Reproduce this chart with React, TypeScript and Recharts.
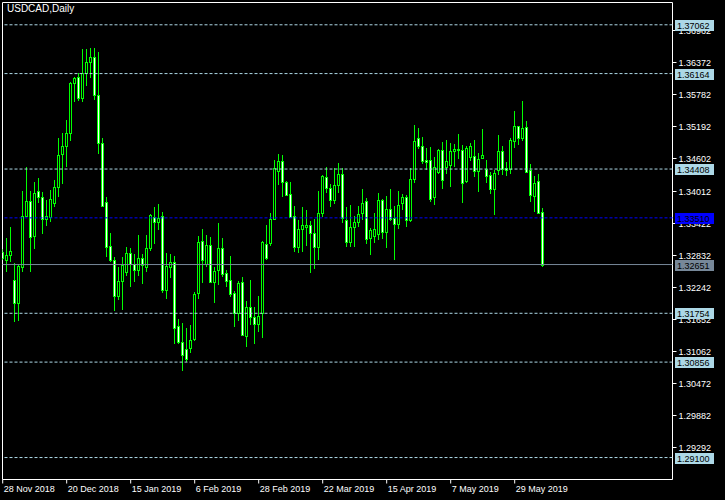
import { Bar, ComposedChart, ReferenceArea, ReferenceLine, XAxis, YAxis } from "recharts";

const title = "USDCAD,Daily";

// daily candles, 28 Nov 2018 .. 7 Jun 2019
const openPrices = [
  1.32888, 1.32742, 1.32833, 1.32368, 1.31952, 1.32613, 1.3355, 1.33813, 1.33182, 1.33997,
  1.33886, 1.33495, 1.33531, 1.33789, 1.34082, 1.34676, 1.34835, 1.3508, 1.35999, 1.36103,
  1.35723, 1.36182, 1.36384, 1.36476, 1.35778, 1.34878, 1.33795, 1.32993, 1.32729, 1.32081,
  1.32356, 1.32509, 1.32858, 1.32656, 1.32546, 1.32766, 1.32601, 1.3295, 1.33531, 1.3344,
  1.3355, 1.32184, 1.32613, 1.32693, 1.31523, 1.31223, 1.31095, 1.31107, 1.31278, 1.32123,
  1.33078, 1.32668, 1.33005, 1.32338, 1.32552, 1.3295, 1.32491, 1.32368, 1.32123, 1.31756,
  1.32325, 1.3134, 1.31866, 1.31682, 1.31548, 1.31756, 1.33023, 1.33042, 1.33488, 1.34376,
  1.34554, 1.34168, 1.33948, 1.33544, 1.3298, 1.33299, 1.33348, 1.33372, 1.33225, 1.32968,
  1.33605, 1.34254, 1.34052, 1.33831, 1.34107, 1.34309, 1.33464, 1.33072, 1.33348, 1.3344,
  1.33593, 1.33813, 1.33133, 1.33176, 1.33207, 1.33831, 1.33256, 1.33666, 1.33501, 1.33391,
  1.33789, 1.33886, 1.33464, 1.34229, 1.3497, 1.34841, 1.34566, 1.34566, 1.33886, 1.34352,
  1.3475, 1.3445, 1.34474, 1.34731, 1.34774, 1.3475, 1.3418, 1.34621, 1.34639, 1.34364,
  1.34603, 1.34401, 1.34297, 1.34033, 1.34382, 1.34731, 1.34419, 1.34413, 1.34933, 1.35197,
  1.34982, 1.3519, 1.34382, 1.33917, 1.3418, 1.33623,
];
const highPrices = [
  1.32937, 1.33139, 1.33335, 1.32674, 1.3265, 1.34003, 1.34444, 1.34003, 1.34162, 1.34241,
  1.33978, 1.33837, 1.34021, 1.34205, 1.34976, 1.35068, 1.35307, 1.36011, 1.36103, 1.36182,
  1.36611, 1.36611, 1.36641, 1.36629, 1.36556, 1.34976, 1.33893, 1.33225, 1.32791, 1.32607,
  1.32791, 1.32974, 1.3295, 1.32846, 1.33195, 1.32852, 1.33195, 1.33586, 1.33709, 1.33764,
  1.33617, 1.32858, 1.32846, 1.32809, 1.31652, 1.31578, 1.31487, 1.31542, 1.32142, 1.33176,
  1.33305, 1.33195, 1.33158, 1.32601, 1.33415, 1.33139, 1.32552, 1.32809, 1.32172, 1.32344,
  1.32423, 1.31982, 1.32368, 1.31878, 1.32074, 1.33078, 1.33378, 1.33599, 1.34572, 1.34682,
  1.34664, 1.3418, 1.34168, 1.33727, 1.3347, 1.33709, 1.33654, 1.33446, 1.33482, 1.34003,
  1.34297, 1.34444, 1.34131, 1.34419, 1.34517, 1.34419, 1.33709, 1.33746, 1.33537, 1.33727,
  1.34039, 1.33874, 1.33323, 1.33599, 1.33966, 1.33862, 1.33911, 1.34039, 1.33727, 1.34003,
  1.33948, 1.33929, 1.34419, 1.35215, 1.35172, 1.34995, 1.34799, 1.34811, 1.34627, 1.34774,
  1.34903, 1.34939, 1.34884, 1.34866, 1.3505, 1.34848, 1.34841, 1.34878, 1.34939, 1.34701,
  1.35141, 1.34572, 1.34346, 1.34395, 1.35031, 1.34823, 1.34529, 1.34988, 1.35478, 1.35209,
  1.35656, 1.35294, 1.34499, 1.34284, 1.34315, 1.33684,
];
const lowPrices = [
  1.32735, 1.32521, 1.32705, 1.31585, 1.31621, 1.32521, 1.33531, 1.32521, 1.32931, 1.33776,
  1.33219, 1.33366, 1.3344, 1.33715, 1.33899, 1.34131, 1.34444, 1.34927, 1.35637, 1.35662,
  1.35637, 1.35937, 1.3609, 1.3568, 1.34688, 1.33715, 1.32791, 1.32705, 1.31805, 1.32,
  1.31823, 1.32448, 1.32246, 1.32338, 1.32448, 1.32301, 1.32509, 1.32907, 1.33035, 1.33286,
  1.32136, 1.32019, 1.32411, 1.31187, 1.31193, 1.30685, 1.3085, 1.31021, 1.31236, 1.32025,
  1.32319, 1.32607, 1.32319, 1.31952, 1.32282, 1.32429, 1.32246, 1.32062, 1.31493, 1.31621,
  1.31327, 1.31131, 1.31542, 1.31187, 1.31401, 1.31291, 1.32735, 1.32993, 1.3347, 1.34113,
  1.33899, 1.33917, 1.3352, 1.32882, 1.3287, 1.32882, 1.32993, 1.32503, 1.3257, 1.32735,
  1.33531, 1.33972, 1.33715, 1.3377, 1.33972, 1.33421, 1.32968, 1.3298, 1.32968, 1.33348,
  1.3347, 1.33035, 1.32827, 1.33054, 1.33103, 1.33127, 1.32956, 1.33458, 1.32735, 1.33311,
  1.33654, 1.33348, 1.3344, 1.34156, 1.3478, 1.34505, 1.34395, 1.33807, 1.33752, 1.34309,
  1.34039, 1.34321, 1.34076, 1.3445, 1.34584, 1.33789, 1.34156, 1.3456, 1.34266, 1.33991,
  1.3459, 1.34156, 1.33954, 1.33568, 1.34297, 1.34297, 1.34284, 1.34321, 1.34799, 1.34848,
  1.34921, 1.34339, 1.33801, 1.33617, 1.3358, 1.32607,
];
const closePrices = [
  1.32766, 1.32821, 1.32895, 1.31952, 1.32631, 1.33537, 1.33813, 1.33164, 1.3396, 1.33899,
  1.33495, 1.33537, 1.3385, 1.34076, 1.34658, 1.34841, 1.3508, 1.35999, 1.3609, 1.35723,
  1.36182, 1.36378, 1.36476, 1.35778, 1.34878, 1.33721, 1.3298, 1.32729, 1.32081, 1.32344,
  1.32638, 1.32858, 1.32656, 1.32546, 1.32766, 1.32638, 1.3295, 1.33562, 1.33427, 1.33513,
  1.32184, 1.32625, 1.32693, 1.3148, 1.31217, 1.30985, 1.30911, 1.3126, 1.32111, 1.33066,
  1.32729, 1.33011, 1.32338, 1.32533, 1.3295, 1.32472, 1.32356, 1.32105, 1.31756, 1.32307,
  1.31346, 1.31866, 1.31682, 1.31548, 1.31701, 1.3306, 1.32766, 1.33488, 1.34419, 1.34554,
  1.34174, 1.33935, 1.33531, 1.3298, 1.33299, 1.33372, 1.33372, 1.33225, 1.32968, 1.33605,
  1.34278, 1.34052, 1.33831, 1.34107, 1.34309, 1.33501, 1.3306, 1.33335, 1.33427, 1.3358,
  1.33776, 1.33115, 1.3328, 1.33299, 1.33831, 1.33256, 1.33666, 1.33482, 1.33403, 1.3374,
  1.33886, 1.33464, 1.34217, 1.34933, 1.34841, 1.34548, 1.34541, 1.33862, 1.34444, 1.34762,
  1.34199, 1.34548, 1.34731, 1.34774, 1.34762, 1.34144, 1.34786, 1.34841, 1.34364, 1.3459,
  1.34658, 1.34272, 1.34046, 1.34327, 1.34731, 1.34401, 1.34382, 1.34939, 1.35197, 1.34988,
  1.35154, 1.34352, 1.33935, 1.34144, 1.33605, 1.32651,
];

const dateLabels = [
  "28 Nov 2018", "20 Dec 2018", "15 Jan 2019", "6 Feb 2019", "28 Feb 2019",
  "22 Mar 2019", "15 Apr 2019", "7 May 2019", "29 May 2019",
];
const dateTickBars = [0, 16, 32, 48, 64, 80, 96, 112, 128];

const priceTicks = [
  1.29292, 1.29882, 1.30472, 1.31062, 1.31652, 1.32242, 1.32832,
  1.33422, 1.34012, 1.34602, 1.35192, 1.35782, 1.36372, 1.36962,
];

const levelPrices = [1.37062, 1.36164, 1.34408, 1.31754, 1.30856, 1.291];
const blueLevel = 1.3351;
const bidPrice = 1.32651;

const GREEN = "#00ff00";
const LEVEL = "#add8e6";
const BID = "#778899";
const FONT = "'Liberation Sans', Arial, sans-serif";
const X_DOMAIN: [number, number] = [-0.05, 167.45];
const Y_DOMAIN: [number, number] = [1.28696, 1.37472];

const rows = openPrices.map((o, i) => ({
  bar: i,
  open: o,
  high: highPrices[i],
  low: lowPrices[i],
  close: closePrices[i],
  range: [lowPrices[i], highPrices[i]],
}));

const Candle = (props: any) => {
  const { x, y, width, height, payload } = props;
  if (!payload) return null;
  const { open, high, low, close } = payload;
  const k = high > low ? height / (high - low) : 0;
  const py = (v: number) => y + (high - v) * k;
  const cx = Math.floor(x + width / 2) + 0.5;
  const top = Math.round(py(Math.max(open, close))) + 0.5;
  let bot = Math.round(py(Math.min(open, close))) + 0.5;
  if (bot - top < 1) bot = top + 1;
  return (
    <g>
      <line x1={cx} x2={cx} y1={Math.round(py(high))} y2={top} stroke={GREEN} strokeWidth={1} />
      <line x1={cx} x2={cx} y1={bot} y2={Math.round(py(low))} stroke={GREEN} strokeWidth={1} />
      <rect
        x={cx - 1}
        y={top}
        width={2}
        height={bot - top}
        fill={close < open ? "#ffffff" : "#000000"}
        stroke={GREEN}
        strokeWidth={1}
      />
    </g>
  );
};

// price scale tick (mark + number), drawn as a reference-line label so the
// level boxes that come later in the tree paint over it like in the terminal
const priceTick = (value: number) => (props: any) => {
  const vb = props.viewBox;
  if (!vb) return null;
  const ax = vb.x + vb.width;
  const ty = Math.round(vb.y) + 0.5;
  return (
    <g>
      <line x1={ax} x2={ax + 4} y1={ty} y2={ty} stroke="#fff" strokeWidth={1} />
      <text x={ax + 6} y={ty} dy="0.36em" fontSize={9} fontFamily={FONT} fill="#fff">
        {value.toFixed(5)}
      </text>
    </g>
  );
};

const priceBox = (value: number, fill: string) => (props: any) => {
  const vb = props.viewBox;
  if (!vb) return null;
  const bx = vb.x + vb.width + 2.5;
  const by = Math.round(vb.y);
  return (
    <g>
      <rect x={bx} y={by - 5} width={39} height={11} fill={fill} />
      <text x={bx + 2} y={by + 0.5} dy="0.36em" fontSize={9} fontFamily={FONT} fill="#000">
        {value.toFixed(5)}
      </text>
    </g>
  );
};

const DateTick = (props: any) => {
  const { x, y, payload } = props;
  const i = dateTickBars.indexOf(payload.value);
  return (
    <text x={x + 1} y={y} dy="0.71em" fontSize={9} fontFamily={FONT} fill="#fff" textAnchor="start">
      {i >= 0 ? dateLabels[i] : ""}
    </text>
  );
};

export default function App() {
  return (
    <div style={{ position: "absolute", left: 0, top: 0, width: 725, height: 500, background: "#000" }}>
      <ComposedChart width={725} height={500} data={rows} margin={{ top: 2.5, right: 0, bottom: 0, left: 2.5 }}>
        <XAxis
          dataKey="bar"
          type="number"
          domain={X_DOMAIN}
          allowDataOverflow
          ticks={dateTickBars}
          interval={0}
          height={20.5}
          axisLine={false}
          tickLine={{ stroke: "#fff" }}
          tickSize={4}
          tick={<DateTick />}
        />
        <YAxis
          orientation="right"
          type="number"
          domain={Y_DOMAIN}
          allowDataOverflow
          ticks={priceTicks}
          width={52.5}
          axisLine={false}
          tickLine={false}
          tick={false}
        />
        {priceTicks.map((t) => (
          <ReferenceLine key={"t" + t} y={t} stroke="none" label={priceTick(t)} />
        ))}
        {levelPrices.map((p) => (
          <ReferenceLine key={p} y={p} stroke={LEVEL} strokeDasharray="3 2" label={priceBox(p, LEVEL)} />
        ))}
        <ReferenceLine y={blueLevel} stroke="#0000ff" strokeDasharray="3 2" label={priceBox(blueLevel, "#0000ff")} />
        <ReferenceLine y={bidPrice} stroke={BID} label={priceBox(bidPrice, BID)} />
        <Bar dataKey="range" barSize={3} shape={<Candle />} isAnimationActive={false} />
        <ReferenceArea
          x1={X_DOMAIN[0]}
          x2={X_DOMAIN[1]}
          y1={Y_DOMAIN[0]}
          y2={Y_DOMAIN[1]}
          fill="none"
          fillOpacity={0}
          stroke="#fff"
          strokeWidth={1}
        />
      </ComposedChart>
      <div
        style={{
          position: "absolute",
          left: 7,
          top: 4,
          color: "#fff",
          fontFamily: FONT,
          fontSize: 10,
          lineHeight: 1,
          whiteSpace: "nowrap",
        }}
      >
        {title}
      </div>
    </div>
  );
}
